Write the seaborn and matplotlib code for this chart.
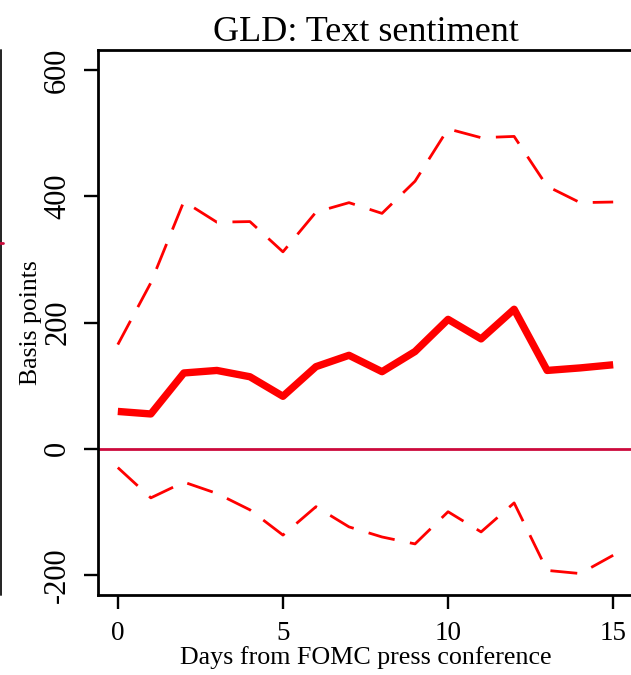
import numpy as np
import pandas as pd
import matplotlib
matplotlib.use("Agg")
import matplotlib.pyplot as plt
from matplotlib.lines import Line2D
import seaborn as sns

# Datos (puntos basicos)
dias = list(range(16))
estimacion = [59, 55, 120, 124, 114, 83, 130, 148, 122, 154, 205, 174, 221, 124, 128, 133]
banda_sup = [165, 263, 392, 359, 360, 312, 375, 390, 373, 424, 507, 493, 495, 416, 390, 391]
banda_inf = [-30, -78, -53, -71, -97, -137, -92, -124, -140, -151, -100, -132, -86, -193, -198, -169]
y_ticks = [-200, 0, 200, 400, 600]
x_ticks = [0, 5, 10, 15]

df = pd.DataFrame({'dia': dias, 'est': estimacion, 'sup': banda_sup, 'inf': banda_inf})

sns.set_style("ticks")
plt.rcParams['font.family'] = ['Liberation Serif', 'DejaVu Serif']
plt.rcParams.update({'text.color': 'black', 'axes.labelcolor': 'black',
                     'xtick.color': 'black', 'ytick.color': 'black'})

fig = plt.figure(figsize=(6.31, 6.75), dpi=100)
ax = fig.add_axes([98 / 631, 1 - 595 / 675, 535 / 631, 545 / 675])

# bandas de confianza (discontinuas)
for col in ['sup', 'inf']:
    sns.lineplot(data=df, x='dia', y=col, ax=ax, color='#ff0000', linewidth=2.0,
                 linestyle=(0, (9.7, 5.6)), dash_capstyle='butt')
# estimacion puntual
sns.lineplot(data=df, x='dia', y='est', ax=ax, color='#ff0000', linewidth=5.3,
             solid_capstyle='butt', solid_joinstyle='round')
ax.axhline(0, color='#cc0a3c', linewidth=2.0)

ax.set_xlim(-0.6, 15.6)
ax.set_ylim(-232, 632)
ax.set_xticks(x_ticks)
ax.set_yticks(y_ticks)
ax.set_xticklabels([str(t) for t in x_ticks], fontsize=19.5)
ax.set_yticklabels([str(t) for t in y_ticks], fontsize=22, rotation=90, va='center')
ax.tick_params(axis='both', length=10, width=1.7, pad=8.6, color='black')

for s in ax.spines.values():
    s.set_linewidth(2.0)
    s.set_color('black')

ax.set_title('GLD: Text sentiment', fontsize=26, pad=6.5)
ax.set_xlabel('Days from FOMC press conference', fontsize=18.7, labelpad=0)
ax.set_ylabel('Basis points', fontsize=18.5, labelpad=1)

# resto del panel vecino (borde recortado)
fig.add_artist(Line2D([1.2 / 631, 1.2 / 631], [1 - 595 / 675, 1 - 50 / 675],
                      transform=fig.transFigure, color='#222222', linewidth=1.4))
fig.add_artist(Line2D([0, 3 / 631], [1 - 242.7 / 675, 1 - 242.7 / 675],
                      transform=fig.transFigure, color='#cc0a3c', linewidth=2.0))

plt.savefig('out.png', dpi=100)
plt.close()
